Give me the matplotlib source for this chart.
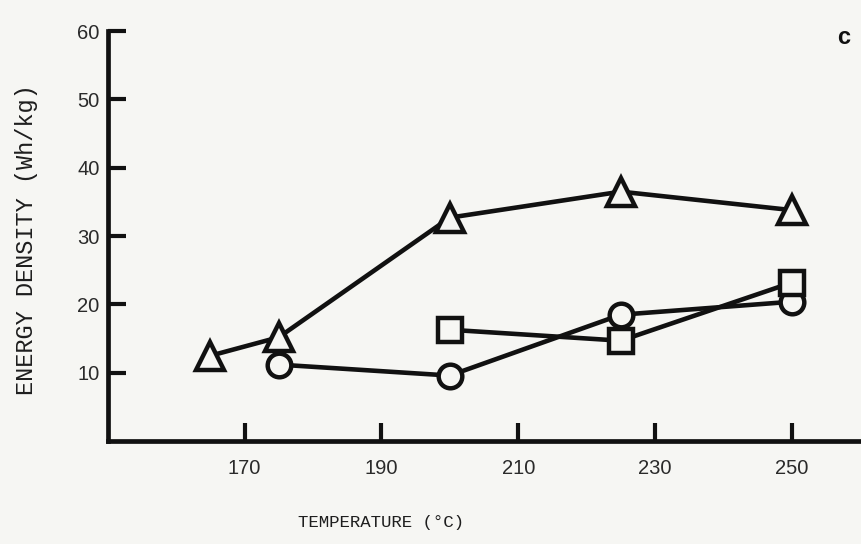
import matplotlib
matplotlib.use("Agg")
import matplotlib.pyplot as plt

# data
temp_tri = [165, 175, 200, 225, 250]
dens_tri = [12.5, 15.2, 32.7, 36.5, 33.8]

temp_circ = [175, 200, 225, 250]
dens_circ = [11.2, 9.6, 18.5, 20.4]

temp_sq = [200, 225, 250]
dens_sq = [16.3, 14.7, 23.2]

x_ticks = [170, 190, 210, 230, 250]
y_ticks = [10, 20, 30, 40, 50, 60]

BG = "#f6f6f3"
INK = "#111111"

plt.rcParams["font.family"] = ["Liberation Sans", "DejaVu Sans"]

fig = plt.figure(figsize=(8.62, 5.44), dpi=100, facecolor=BG)
ax = fig.add_axes([0.125, 0.189, 0.873, 0.754], facecolor=BG)

line = dict(color=INK, lw=3.3, mfc=BG, mec=INK, mew=3.2, zorder=3)
ax.plot(temp_tri, dens_tri, marker="^", ms=20, **line)
ax.plot(temp_circ, dens_circ, marker="o", ms=17, **line)
ax.plot(temp_sq, dens_sq, marker="s", ms=17, **line)

ax.set_xlim(150, 260)
ax.set_ylim(0, 60)
ax.set_xticks(x_ticks)
ax.set_yticks(y_ticks)

for s in ["top", "right"]:
    ax.spines[s].set_visible(False)
for s in ["left", "bottom"]:
    ax.spines[s].set_linewidth(3.4)
    ax.spines[s].set_color(INK)

ax.tick_params(direction="in", length=13, width=3, colors=INK,
               labelsize=14.5, labelcolor="#2a2a2a")
ax.tick_params(axis="x", pad=13)
ax.tick_params(axis="y", pad=6)

mono = ["Liberation Mono", "DejaVu Sans Mono"]
fig.text(381 / 862, 1 - 523 / 544, "TEMPERATURE (°C)", ha="center", va="center",
         fontsize=12.5, color="#1e1e1e", family=mono)
fig.text(27 / 862, 1 - 240 / 544, "ENERGY DENSITY (Wh/kg)", ha="center", va="center",
         rotation=90, fontsize=17, color="#1e1e1e", family=mono)
fig.text(844 / 862, 1 - 37 / 544, "c", ha="center", va="center",
         fontsize=17, fontweight="bold", color=INK)

fig.savefig("out.png", dpi=100, facecolor=BG)
